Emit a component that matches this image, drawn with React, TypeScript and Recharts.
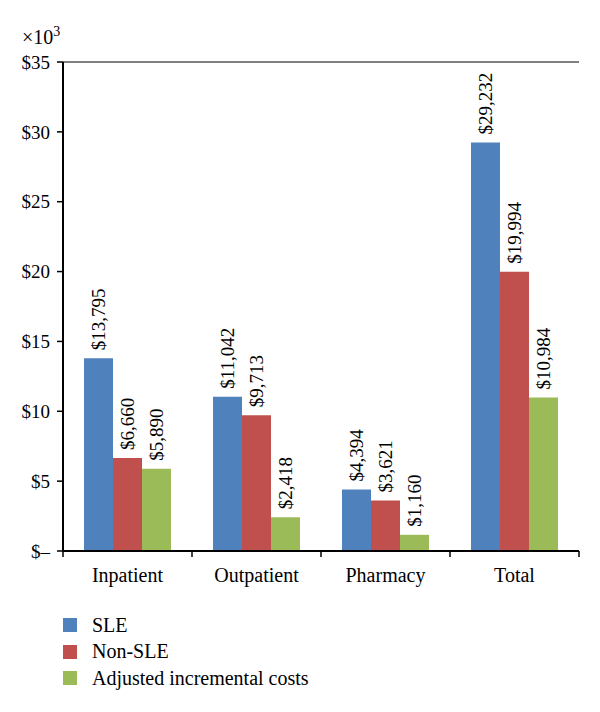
import React from "react";
import { BarChart, Bar, XAxis, YAxis, ReferenceLine, LabelList } from "recharts";

const categories = ["Inpatient", "Outpatient", "Pharmacy", "Total"];
const sle = [13795, 11042, 4394, 29232];
const nonSle = [6660, 9713, 3621, 19994];
const adjusted = [5890, 2418, 1160, 10984];
const yTicks = [0, 5000, 10000, 15000, 20000, 25000, 30000, 35000];

const seriesDefs = [
  { key: "sle", name: "SLE", color: "#4F81BD" },
  { key: "nonSle", name: "Non-SLE", color: "#C0504D" },
  { key: "adjusted", name: "Adjusted incremental costs", color: "#9BBB59" },
];

const data = categories.map((c, i) => ({
  category: c,
  sle: sle[i],
  nonSle: nonSle[i],
  adjusted: adjusted[i],
}));

const FONT = "'Liberation Serif', 'Times New Roman', serif";

const fmtMoney = (v: number) => "$" + v.toLocaleString("en-US");
const fmtTick = (v: number) => (v === 0 ? "$\u2013" : "$" + v / 1000);

const BarLabel = (props: any) => {
  const { x, y, width, value } = props;
  const cx = Number(x) + Number(width) / 2;
  const cy = Number(y) - 8;
  return (
    <text
      transform={`translate(${cx}, ${cy}) rotate(-90)`}
      textAnchor="start"
      dominantBaseline="central"
      style={{ fontFamily: FONT, fontSize: 19, fill: "#000" }}
    >
      {fmtMoney(value)}
    </text>
  );
};

const XTick = (props: any) => {
  const { x, y, payload, index } = props;
  const half = payload && payload.offset ? payload.offset : 64.5;
  const axisY = y - 16;
  const last = index === categories.length - 1;
  return (
    <g>
      <line x1={x - half} x2={x - half} y1={axisY} y2={axisY + 6} stroke="#000" strokeWidth={1.5} />
      {last && <line x1={x + half} x2={x + half} y1={axisY} y2={axisY + 6} stroke="#000" strokeWidth={1.5} />}
      <text
        x={x}
        y={y + 1}
        dy="0.71em"
        textAnchor="middle"
        style={{ fontFamily: FONT, fontSize: 20, fill: "#000" }}
      >
        {payload.value}
      </text>
    </g>
  );
};

export default function App() {
  return (
    <div
      style={{
        position: "absolute",
        left: 0,
        top: 0,
        width: 600,
        height: 712,
        background: "#fff",
        fontFamily: FONT,
      }}
    >
      <BarChart
        width={600}
        height={712}
        data={data}
        margin={{ top: 62, right: 21, left: 0, bottom: 121 }}
        barCategoryGap={21}
        barGap={0}
      >
        <XAxis
          dataKey="category"
          height={40}
          tickLine={false}
          tickSize={6}
          tickMargin={10}
          tick={<XTick />}
          axisLine={{ stroke: "#000", strokeWidth: 2 }}
          interval={0}
        />
        <YAxis
          yAxisId="l"
          width={63}
          domain={[0, 35000]}
          ticks={yTicks}
          tickFormatter={fmtTick}
          tickSize={6}
          tickMargin={7}
          axisLine={{ stroke: "#000", strokeWidth: 2 }}
          tickLine={{ stroke: "#000", strokeWidth: 1.5 }}
          tick={{ fill: "#000", fontSize: 19, fontFamily: FONT }}
        />
        <YAxis
          yAxisId="r"
          orientation="right"
          width={0}
          domain={[0, 35000]}
          tick={false}
          tickLine={false}
          axisLine={{ stroke: "#000", strokeWidth: 1 }}
        />
        <ReferenceLine yAxisId="l" y={35000} stroke="#000" strokeWidth={1} />
        {seriesDefs.map((s) => (
          <Bar key={s.key} yAxisId="l" dataKey={s.key} name={s.name} fill={s.color} isAnimationActive={false}>
            <LabelList dataKey={s.key} content={<BarLabel />} />
          </Bar>
        ))}
      </BarChart>
      <div
        style={{
          position: "absolute",
          left: 22,
          top: 22,
          fontSize: 20,
          lineHeight: "20px",
          color: "#000",
          whiteSpace: "nowrap",
        }}
      >
        ×10<sup style={{ fontSize: 14, verticalAlign: "8px" }}>3</sup>
      </div>
      <div style={{ position: "absolute", left: 63, top: 612 }}>
        {seriesDefs.map((s) => (
          <div
            key={s.key}
            style={{ display: "flex", alignItems: "center", height: 26.5, fontSize: 20, color: "#000" }}
          >
            <span style={{ display: "inline-block", width: 14, height: 14, background: s.color, marginRight: 15 }} />
            <span>{s.name}</span>
          </div>
        ))}
      </div>
    </div>
  );
}
